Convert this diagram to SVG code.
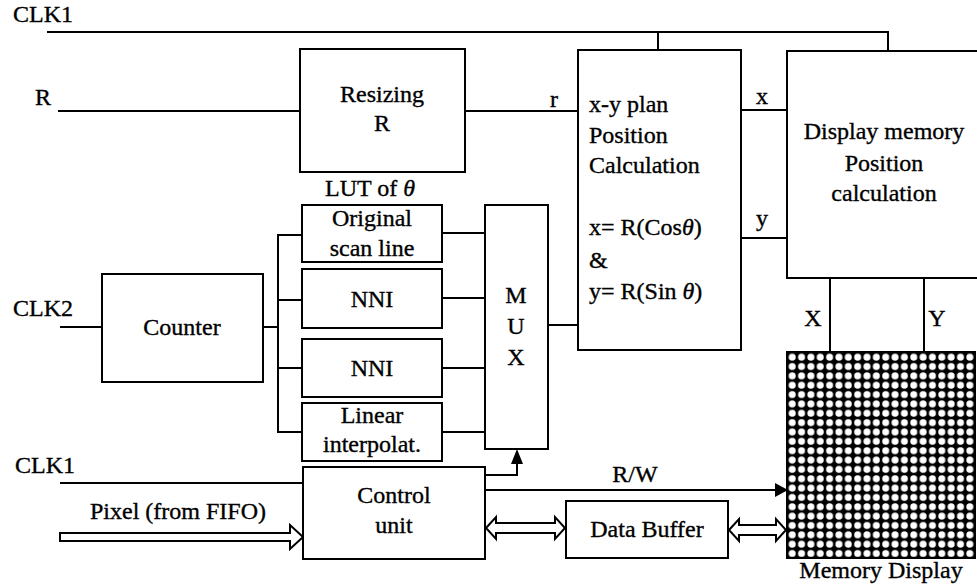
<svg xmlns="http://www.w3.org/2000/svg" width="977" height="588" viewBox="0 0 977 588">
<style>
  .box { fill: #fff; stroke: #000; stroke-width: 2; }
  .ln { fill: none; stroke: #000; stroke-width: 2; }
  .hollow { fill: #fff; stroke: #000; stroke-width: 2; stroke-linejoin: miter; }
  .solid { fill: #000; stroke: none; }
  text { font-family: "Liberation Serif", "Times New Roman", serif; font-size: 24px; fill: #000; stroke: #000; stroke-width: 0.35; }
  .c { text-anchor: middle; }
  .th { font-style: italic; }
</style>
<defs>
  <pattern id="dots" patternUnits="userSpaceOnUse" x="787.5" y="352.5" width="9.35" height="9.35">
    <circle cx="4.7" cy="4.7" r="3.5" fill="#fff"/>
  </pattern>
</defs>
<rect width="977" height="588" fill="#fff"/>

<g id="connectors">
  <!-- CLK1 top bus -->
  <path class="ln" d="M47 32 H888 V51"/>
  <path class="ln" d="M658 32 V50"/>
  <!-- R input -->
  <path class="ln" d="M58 111 H300"/>
  <!-- Resizing -> xy -->
  <path class="ln" d="M465 111 H578"/>
  <!-- x, y to display memory -->
  <path class="ln" d="M741 110 H787"/>
  <path class="ln" d="M741 238 H787"/>
  <!-- CLK2 -> counter -->
  <path class="ln" d="M60 327 H102"/>
  <!-- counter -> bus -> LUT boxes -->
  <path class="ln" d="M263 327 H278"/>
  <path class="ln" d="M302 235 H278 V432 H302"/>
  <path class="ln" d="M278 300 H302"/>
  <path class="ln" d="M278 368 H302"/>
  <!-- LUT boxes -> MUX -->
  <path class="ln" d="M442 233 H485"/>
  <path class="ln" d="M442 298 H485"/>
  <path class="ln" d="M442 368 H485"/>
  <path class="ln" d="M442 432 H485"/>
  <!-- MUX -> xy -->
  <path class="ln" d="M548 325 H578"/>
  <!-- X, Y -->
  <path class="ln" d="M830 278 V352"/>
  <path class="ln" d="M924 278 V352"/>
  <!-- CLK1 bottom -->
  <path class="ln" d="M60 483 H303"/>
  <!-- Pixel hollow arrow -->
  <polygon class="hollow" points="60,533 290,533 290,525 303,537 290,549 290,541 60,541"/>
  <!-- control -> MUX -->
  <path class="ln" d="M485 475 H517 V462"/>
  <polygon class="solid" points="511,464 523,464 517,449"/>
  <!-- R/W -->
  <path class="ln" d="M485 490 H776"/>
  <polygon class="solid" points="775,483 788,490 775,497"/>
  <!-- control <-> data buffer -->
  <polygon class="hollow" points="486,528 496,517 496,523 555,523 555,517 565,528 555,539 555,533 496,533 496,539"/>
  <!-- data buffer <-> memory -->
  <polygon class="hollow" points="729,530 739,519 739,525 776,525 776,519 786,530 776,541 776,535 739,535 739,541"/>
</g>

<g id="clk1-top-label"><text x="13" y="22">CLK1</text></g>
<g id="r-label"><text x="35" y="105">R</text></g>
<g id="r-small-label"><text x="550" y="107">r</text></g>
<g id="x-label"><text x="762" y="104" class="c">x</text></g>
<g id="y-label"><text x="762" y="226" class="c">y</text></g>
<g id="clk2-label"><text x="13" y="316">CLK2</text></g>
<g id="X-label"><text x="813" y="326" class="c">X</text></g>
<g id="Y-label"><text x="937" y="326" class="c">Y</text></g>
<g id="clk1-bottom-label"><text x="15" y="473">CLK1</text></g>
<g id="pixel-label"><text x="90" y="519">Pixel (from FIFO)</text></g>
<g id="rw-label"><text x="635" y="482" class="c">R/W</text></g>

<g id="resizing">
  <rect class="box" x="300" y="49" width="165" height="123"/>
  <text x="382" y="102" class="c">Resizing</text>
  <text x="382" y="131" class="c">R</text>
</g>

<g id="xy-calc">
  <rect class="box" x="578" y="50" width="163" height="300"/>
  <text x="589" y="112">x-y plan</text>
  <text x="589" y="143">Position</text>
  <text x="589" y="173">Calculation</text>
  <text x="589" y="235">x= R(Cos<tspan class="th">θ</tspan>)</text>
  <text x="589" y="268">&amp;</text>
  <text x="589" y="299">y= R(Sin <tspan class="th">θ</tspan>)</text>
</g>

<g id="display-memory">
  <path class="box" d="M977 51 H787 V278 H977"/>
  <text x="884" y="139" class="c">Display memory</text>
  <text x="884" y="171" class="c">Position</text>
  <text x="884" y="201" class="c">calculation</text>
</g>

<g id="lut-label"><text x="370" y="196" class="c">LUT of <tspan class="th">θ</tspan></text></g>

<g id="original-scan-line">
  <rect class="box" x="302" y="205" width="140" height="57"/>
  <text x="372" y="226" class="c">Original</text>
  <text x="372" y="256" class="c">scan line</text>
</g>
<g id="nni-1">
  <rect class="box" x="302" y="269" width="140" height="59"/>
  <text x="372" y="307" class="c">NNI</text>
</g>
<g id="nni-2">
  <rect class="box" x="302" y="339" width="140" height="58"/>
  <text x="372" y="376" class="c">NNI</text>
</g>
<g id="linear-interp">
  <rect class="box" x="302" y="403" width="140" height="58"/>
  <text x="372" y="423" class="c">Linear</text>
  <text x="372" y="452" class="c">interpolat.</text>
</g>

<g id="counter">
  <rect class="box" x="102" y="274" width="161" height="108"/>
  <text x="182" y="335" class="c">Counter</text>
</g>

<g id="mux">
  <rect class="box" x="485" y="205" width="63" height="244"/>
  <text x="516" y="303" class="c">M</text>
  <text x="516" y="334" class="c">U</text>
  <text x="516" y="365" class="c">X</text>
</g>

<g id="control-unit">
  <rect class="box" x="303" y="467" width="182" height="92"/>
  <text x="394" y="503" class="c">Control</text>
  <text x="394" y="533" class="c">unit</text>
</g>

<g id="data-buffer">
  <rect class="box" x="566" y="501" width="162" height="57"/>
  <text x="647" y="537" class="c">Data Buffer</text>
</g>

<g id="memory-display">
  <rect x="787" y="352" width="188" height="206" fill="#000" stroke="#000" stroke-width="2"/>
  <rect x="788" y="353" width="186" height="204" fill="url(#dots)"/>
  <text x="881" y="578" class="c">Memory Display</text>
</g>
</svg>
